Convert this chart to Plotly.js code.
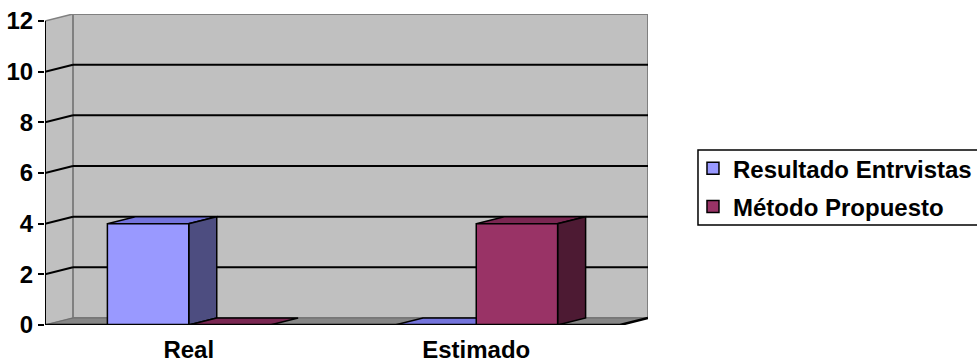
<!DOCTYPE html>
<html>
<head>
<meta charset="utf-8">
<script src="https://cdn.plot.ly/plotly-3.0.1.min.js"></script>
<style>
  html, body { margin: 0; padding: 0; background: #ffffff; }
  #chart { width: 977px; height: 362px; }
</style>
</head>
<body>
<div id="chart"></div>
<script>
// Data
const categories = ['Real', 'Estimado'];
const seriesNames = ['Resultado Entrvistas', 'Método Propuesto'];
const resultadoEntrvistas = [4, 0];
const metodoPropuesto = [0, 4];
const yTickValues = [0, 2, 4, 6, 8, 10, 12];

// Series colours: front face, top face, side face
const frontColors = ['#9999FF', '#993366'];
const topColors = ['#7474DC', '#7A2752'];
const sideColors = ['#4D4D80', '#4D1A33'];

// 3-D box geometry, in axis units
const DEPTH_X = 0.0974;   // horizontal shift of the back plane
const DEPTH_Y = 0.276;    // vertical shift of the back plane
const BAR_W = 0.283;      // width of each bar's front face
const Y_MAX = 12;
const X_MIN = -0.5, X_MAX = categories.length - 0.5;

const FONT = { family: '"Liberation Sans", Arial, sans-serif', size: 24, color: '#000000', weight: 'bold' };

const seriesValues = [resultadoEntrvistas, metodoPropuesto];
const seriesOffsets = [-BAR_W, 0];

function poly(pts) {
  return 'M' + pts.map(p => p[0] + ',' + p[1]).join('L') + 'Z';
}

const shapes = [];

// Left side wall
shapes.push({
  type: 'path', xref: 'x', yref: 'y', layer: 'below',
  path: poly([[X_MIN, 0], [X_MIN, Y_MAX], [X_MIN + DEPTH_X, Y_MAX + DEPTH_Y], [X_MIN + DEPTH_X, DEPTH_Y]]),
  fillcolor: '#C0C0C0', line: { color: '#808080', width: 1.5 }
});
// Back wall
shapes.push({
  type: 'rect', xref: 'x', yref: 'y', layer: 'below',
  x0: X_MIN + DEPTH_X, x1: X_MAX + DEPTH_X, y0: DEPTH_Y, y1: Y_MAX + DEPTH_Y,
  fillcolor: '#C0C0C0', line: { color: '#808080', width: 2 }
});
// Floor
shapes.push({
  type: 'path', xref: 'x', yref: 'y', layer: 'below',
  path: poly([[X_MIN, 0], [X_MAX, 0], [X_MAX + DEPTH_X, DEPTH_Y], [X_MIN + DEPTH_X, DEPTH_Y]]),
  fillcolor: '#868686', line: { color: '#6E6E6E', width: 1 }
});
// Gridlines across the back wall and the side wall
yTickValues.forEach(v => {
  if (v === 0 || v === Y_MAX) return;
  shapes.push({
    type: 'line', xref: 'x', yref: 'y', layer: 'below',
    x0: X_MIN + DEPTH_X, x1: X_MAX + DEPTH_X, y0: v + DEPTH_Y, y1: v + DEPTH_Y,
    line: { color: '#000000', width: 2 }
  });
  shapes.push({
    type: 'line', xref: 'x', yref: 'y', layer: 'below',
    x0: X_MIN, x1: X_MIN + DEPTH_X, y0: v, y1: v + DEPTH_Y,
    line: { color: '#000000', width: 2 }
  });
});
// Bar top and side faces
seriesValues.forEach((vals, s) => {
  vals.forEach((v, j) => {
    const x0 = j + seriesOffsets[s];
    const x1 = x0 + BAR_W;
    shapes.push({
      type: 'path', xref: 'x', yref: 'y', layer: 'below',
      path: poly([[x0, v], [x1, v], [x1 + DEPTH_X, v + DEPTH_Y], [x0 + DEPTH_X, v + DEPTH_Y]]),
      fillcolor: topColors[s], line: { color: '#000000', width: 1.5 }
    });
    if (v > 0) {
      shapes.push({
        type: 'path', xref: 'x', yref: 'y', layer: 'below',
        path: poly([[x1, 0], [x1 + DEPTH_X, DEPTH_Y], [x1 + DEPTH_X, v + DEPTH_Y], [x1, v]]),
        fillcolor: sideColors[s], line: { color: '#000000', width: 1.5 }
      });
    }
  });
});
// Front value axis line
shapes.push({
  type: 'line', xref: 'x', yref: 'y', layer: 'above',
  x0: X_MIN, x1: X_MIN, y0: 0, y1: Y_MAX,
  line: { color: '#000000', width: 2 }
});
// Front edge of the floor (category axis) and its right-hand return
shapes.push({
  type: 'path', xref: 'x', yref: 'y', layer: 'above',
  path: 'M' + X_MIN + ',0L' + X_MAX + ',0L' + (X_MAX + DEPTH_X) + ',' + DEPTH_Y,
  line: { color: '#000000', width: 2.5 }
});
// Category boundary tick marks
for (let k = 0; k < categories.length; k++) {
  shapes.push({
    type: 'line', xref: 'x', yref: 'y', layer: 'above',
    ysizemode: 'pixel', yanchor: 0,
    x0: k + 0.5, x1: k + 0.5, y0: 0, y1: -6,
    line: { color: '#000000', width: 2 }
  });
}
// Legend frame (runs off the right edge of the page)
shapes.push({
  type: 'rect', xref: 'paper', yref: 'paper', layer: 'below',
  x0: 1.0829, x1: 1.6, y0: 0.3215, y1: 0.5627,
  fillcolor: '#ffffff', line: { color: '#000000', width: 1.5 }
});

const traces = seriesValues.map((vals, s) => ({
  type: 'bar',
  name: seriesNames[s],
  legendgroup: 'g' + s,
  x: categories.map((c, j) => j),
  y: vals,
  width: BAR_W,
  offset: seriesOffsets[s],
  marker: { color: frontColors[s], line: { color: '#000000', width: 1.5 } },
  hoverinfo: 'skip'
}));

const layout = {
  width: 977, height: 362,
  margin: { l: 45, r: 329, t: 14, b: 37, autoexpand: false },
  paper_bgcolor: '#ffffff', plot_bgcolor: 'rgba(0,0,0,0)',
  barmode: 'overlay',
  showlegend: true,
  font: FONT,
  xaxis: {
    range: [X_MIN, X_MAX + DEPTH_X],
    tickvals: categories.map((c, j) => j),
    ticktext: categories,
    ticks: '', showgrid: false, zeroline: false, showline: false,
    ticklabelstandoff: 8,
    tickfont: FONT, fixedrange: true
  },
  yaxis: {
    range: [0, Y_MAX + DEPTH_Y],
    tickvals: yTickValues,
    ticktext: yTickValues.map(String),
    ticks: 'outside', ticklen: 6, tickwidth: 2, tickcolor: '#000000',
    showgrid: false, zeroline: false, showline: false,
    tickfont: FONT, fixedrange: true
  },
  legend: {
    x: 1.0746, xanchor: 'left', y: 0.575, yanchor: 'top',
    bgcolor: 'rgba(0,0,0,0)', borderwidth: 0,
    font: FONT, traceorder: 'grouped', tracegroupgap: 4
  },
  shapes: shapes
};

Plotly.newPlot('chart', traces, layout, { staticPlot: true, displayModeBar: false });
</script>
</body>
</html>
